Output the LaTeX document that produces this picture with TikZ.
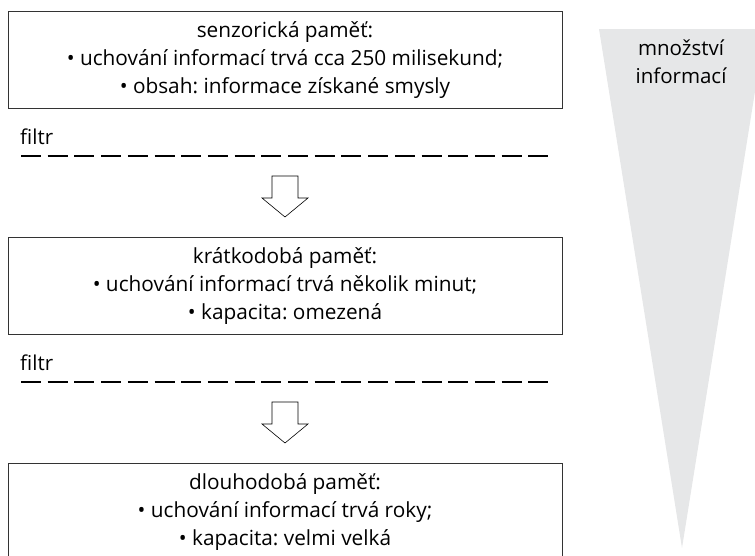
\documentclass[tikz,border=0pt]{standalone}
\usepackage{fontspec}
\setmainfont{Open Sans}
\frenchspacing
\usetikzlibrary{positioning}
\definecolor{trojuhelnik}{RGB}{230,231,232}
\tikzset{
  pamet/.style={draw=black!80, line width=0.9pt, minimum width=554pt, minimum height=97pt,
    inner sep=0pt, align=center, font=\fontsize{20.8}{28}\selectfont},
  popis/.style={inner sep=0pt, font=\fontsize{20.5}{22}\selectfont},
  filtrcara/.style={line width=2.5pt, dash pattern=on 20pt off 6.7pt},
  sipka/.style={draw=black, line width=0.6pt, fill=white},
}
\begin{document}
\begin{tikzpicture}[x=1pt,y=-1pt]
 \useasboundingbox (0,0) rectangle (755,555);
 % mnozstvi informaci
 \fill[trojuhelnik] (599,29)--(765,29)--(682,548)--cycle;
 \node[popis, align=center, font=\fontsize{20.5}{28}\selectfont] (mnozstvi) at (681,62) {množství\\informací};
 % senzoricka pamet
 \node[pamet] (senz) at (285,60) {senzorická paměť:\\• uchování informací trvá cca 250 milisekund;\\• obsah: informace získané smysly};
 \node[popis, anchor=base west] (filtr1) at (20,144) {filtr};
 \coordinate (f1a) at (21,156);
 \coordinate (f1b) at (549,156);
 \draw[filtrcara] (f1a)--(f1b);
 \coordinate (s1) at (285,176);
 \draw[sipka] (s1) ++(-13,0)--++(26,0)--++(0,22)--++(10,0)--++(-23,19)--++(-23,-19)--++(10,0)--cycle;
 % kratkodoba pamet
 \node[pamet] (krat) at (285,286) {krátkodobá paměť:\\• uchování informací trvá několik minut;\\• kapacita: omezená};
 \node[popis, anchor=base west] (filtr2) at (20,370) {filtr};
 \coordinate (f2a) at (21,382);
 \coordinate (f2b) at (549,382);
 \draw[filtrcara] (f2a)--(f2b);
 \coordinate (s2) at (285,402);
 \draw[sipka] (s2) ++(-13,0)--++(26,0)--++(0,22)--++(10,0)--++(-23,19)--++(-23,-19)--++(10,0)--cycle;
 % dlouhodoba pamet
 \node[pamet] (dlouh) at (285,512) {dlouhodobá paměť:\\• uchování informací trvá roky;\\• kapacita: velmi velká};
\end{tikzpicture}
\end{document}
